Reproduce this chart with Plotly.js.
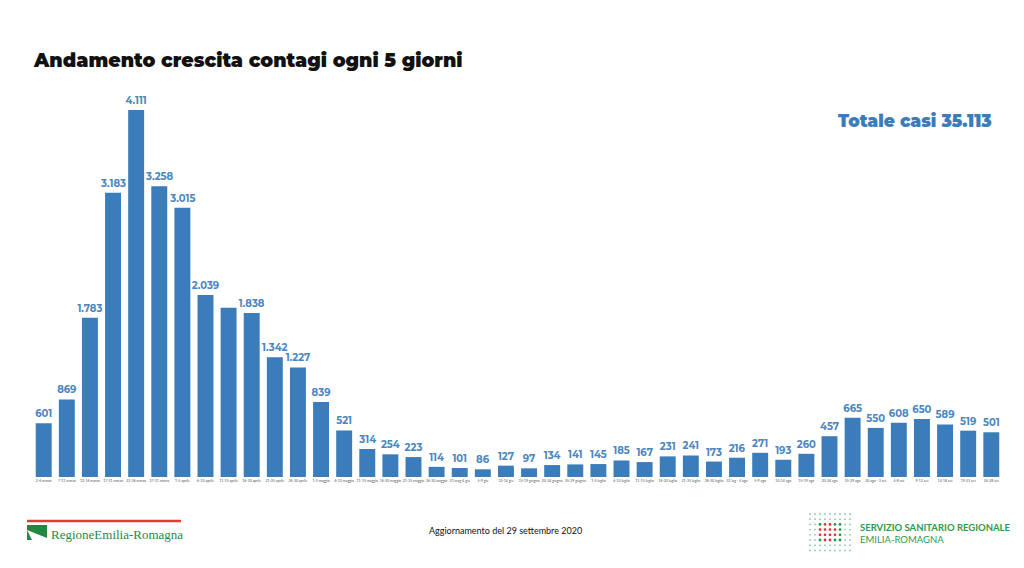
<!DOCTYPE html>
<html>
<head>
<meta charset="utf-8">
<script src="https://cdn.plot.ly/plotly-3.0.1.min.js"></script>
<style>html,body{margin:0;padding:0;background:#fff;}#chart{width:1024px;height:568px;}</style>
</head>
<body>
<div id="chart"></div>
<script>
const periods = ["2-6 marzo","7-11 marzo","12-16 marzo","17-21 marzo","22-26 marzo","27-31 marzo",
"1-5 aprile","6-10 aprile","11-15 aprile","16-20 aprile","21-25 aprile","26-30 aprile",
"1-5 maggio","6-10 maggio","11-15 maggio","16-20 maggio","21-25 maggio","26-30 maggio",
"31 mag-4 giu","5-9 giu","10-14 giu","15-19 giugno","20-24 giugno","25-29 giugno",
"1-5 luglio","6-10 luglio","11-15 luglio","16-20 luglio","21-25 luglio","26-30 luglio",
"31 lug - 4 ago","5-9 ago","10-14 ago","15-19 ago","20-24 ago","25-29 ago",
"30 ago - 3 set","4-8 set","9-13 set","14-18 set","19-23 set","24-28 set"];
const cases = [601,869,1783,3183,4111,3258,3015,2039,1895,1838,1342,1227,839,521,314,254,223,114,101,86,127,97,134,141,145,185,167,231,241,173,216,271,193,260,457,665,550,608,650,589,519,501];
const labelShown = cases.map((v,i)=> i !== 8);
const totalText = "Totale casi 35.113";
const titleText = "Andamento crescita contagi ogni 5 giorni";
const updateText = "Aggiornamento del 29 settembre 2020";

function fmt(v){ return String(v).replace(/\B(?=(\d{3})+(?!\d))/g, "."); }

const L=31, R=20, T=100, B=91, W=1024, H=568;
const pw = W-L-R, ph = H-T-B;
function px(x){ return (x-L)/pw; }
function py(y){ return (H-B-y)/ph; }

const blue = "#3b7dba";
const green = "#2e9a4c";

const trace = {
  type: "bar",
  x: periods,
  y: cases,
  marker: {color: blue},
  text: cases.map((v,i)=> labelShown[i] ? fmt(v) : ""),
  textposition: "outside",
  constraintext: "none",
  textfont: {family: "Montserrat, Lato, 'Open Sans', sans-serif", size: 10, color: "#4a86c0", weight: 700},
  cliponaxis: false,
  hoverinfo: "x+y"
};

const shapes = [];
shapes.push({type:"line", xref:"paper", yref:"paper", x0:px(27), x1:px(181), y0:py(521), y1:py(521), line:{color:"#e03a3a", width:2.5}});
shapes.push({type:"path", xref:"paper", yref:"paper",
  path:`M ${px(27)} ${py(525)} L ${px(47)} ${py(525)} L ${px(47)} ${py(540)} L ${px(27)} ${py(540)} Z`,
  fillcolor:"#1f8a3f", line:{width:0}});
shapes.push({type:"path", xref:"paper", yref:"paper",
  path:`M ${px(27)} ${py(530)} L ${px(47)} ${py(538)} L ${px(47)} ${py(540)} L ${px(32)} ${py(540)} Z`,
  fillcolor:"#ffffff", line:{width:0}});
for(let r=0;r<8;r++){
  for(let c=0;c<9;c++){
    const cx = 810 + c*5, cy = 514 + r*5.2;
    const inner = (r>=2 && r<=5 && c>=2 && c<=6);
    const red = (r>=3 && r<=4 && c>=2 && c<=5) || (c>=3 && c<=4 && r>=2 && r<=5);
    const rad = inner ? 1.4 : 0.9;
    const col = red ? "#d9363e" : (inner ? "#1e9b4a" : "#8cc9a0");
    shapes.push({type:"circle", xref:"paper", yref:"paper",
      x0:px(cx-rad), x1:px(cx+rad), y0:py(cy+rad), y1:py(cy-rad), fillcolor:col, line:{width:0}});
  }
}

const annotations = [
  {text: titleText, xref:"paper", yref:"paper", x:px(31), y:py(60), xanchor:"left", yanchor:"middle", showarrow:false,
   font:{family:"Montserrat, Lato, 'Open Sans', sans-serif", size:19, color:"#111", weight:900}},
  {text: totalText, xref:"paper", yref:"paper", x:px(994), y:py(121), xanchor:"right", yanchor:"middle", showarrow:false,
   font:{family:"Montserrat, Lato, 'Open Sans', sans-serif", size:17, color:blue, weight:900}},
  {text: updateText, xref:"paper", yref:"paper", x:px(505), y:py(530), xanchor:"center", yanchor:"middle", showarrow:false,
   font:{family:"Lato, 'Open Sans', sans-serif", size:9, color:"#111"}},
  {text: "RegioneEmilia-Romagna", xref:"paper", yref:"paper", x:px(49), y:py(534), xanchor:"left", yanchor:"middle", showarrow:false,
   font:{family:"'Liberation Serif', 'DejaVu Serif', serif", size:13, color:"#1f8a3f"}},
  {text: "SERVIZIO SANITARIO REGIONALE", xref:"paper", yref:"paper", x:px(858), y:py(527), xanchor:"left", yanchor:"middle", showarrow:false,
   font:{family:"Lato, 'Open Sans', sans-serif", size:9.5, color:green, weight:700}},
  {text: "EMILIA-ROMAGNA", xref:"paper", yref:"paper", x:px(858), y:py(539), xanchor:"left", yanchor:"middle", showarrow:false,
   font:{family:"Lato, 'Open Sans', sans-serif", size:9.5, color:green}}
];

const layout = {
  width: W, height: H,
  margin: {l:L, r:R, t:T, b:B, pad:0},
  paper_bgcolor: "#fff", plot_bgcolor: "#fff",
  bargap: 0.31,
  showlegend: false,
  xaxis: {type:"category", showgrid:false, zeroline:false, showline:false, ticks:"", tickangle:0,
          tickfont:{family:"Lato, sans-serif", size:3.5, color:"#555"}, automargin:false, ticklen:0, range:[-0.55, 41.55]},
  yaxis: {range:[0, 4223], showgrid:false, zeroline:false, showline:false, showticklabels:false, ticks:""},
  shapes: shapes,
  annotations: annotations
};

Plotly.newPlot("chart", [trace], layout, {displayModeBar:false, staticPlot:true});
</script>
</body>
</html>
